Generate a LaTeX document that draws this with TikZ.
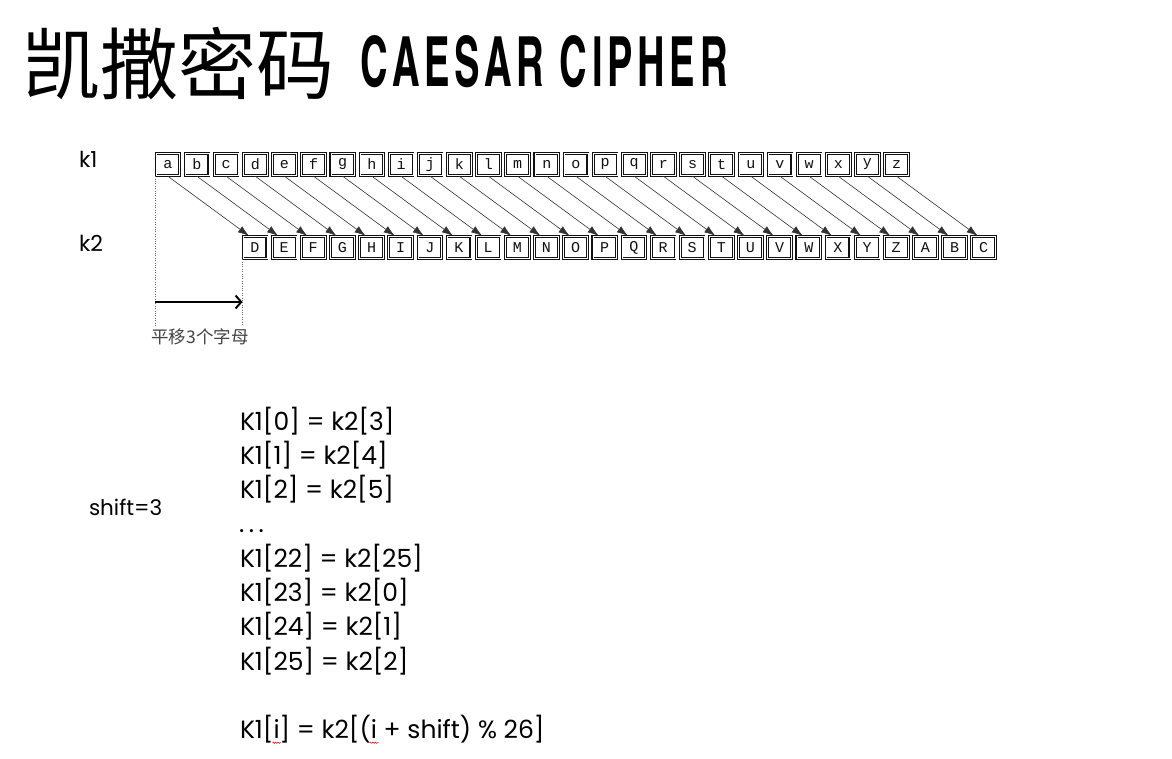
\documentclass[tikz,border=0pt]{standalone}
\usepackage{fontspec}
\usepackage{graphicx}
\usetikzlibrary{arrows.meta,decorations.pathmorphing}
\newfontfamily\cjk{Noto Sans CJK SC}
\newfontfamily\ttl[LetterSpace=10]{texgyreheroscn-bold.otf}
\newfontfamily\txt{Poppins}
\newfontfamily\mono{Liberation Mono}
\definecolor{boxink}{HTML}{111111}
\definecolor{labgray}{HTML}{444444}
\tikzset{
  letterbox/.style={draw=boxink, double=white, line width=1.1pt, double distance=0.6pt,
    minimum width=23.8pt, minimum height=22.3pt, inner sep=0pt,
    font=\mono\fontsize{15}{15}\selectfont, text=boxink},
  maparrow/.style={draw=black!80, line width=0.6pt, -{Latex[length=11pt,width=7.5pt]}},
  dotline/.style={draw=black!60, line width=0.7pt, dash pattern=on 1pt off 1.4pt},
  shiftarrow/.style={draw=black, line width=2.8pt, -{Straight Barb[length=5.5pt,width=13pt,line width=2pt]}},
  plain/.style={inner sep=0pt, outer sep=0pt, anchor=base west},
  eq/.style={plain, font=\txt\fontsize{25}{25}\selectfont},
  squig/.style={draw=red, line width=0.5pt, decorate, decoration={snake, amplitude=0.7pt, segment length=2.4pt}}
}
\begin{document}
\begin{tikzpicture}[x=1pt,y=-1pt]
\useasboundingbox[fill=white] (0,0) rectangle (1172,758);

% title
\node[inner sep=0pt, anchor=west, font=\cjk\fontsize{78}{78}\selectfont] (tcn) at (22,63.4) {凯撒密码};
\node[plain] (ten) at (360.7,86) {\resizebox{367pt}{51pt}{\ttl CAESAR CIPHER}};

% row labels
\node[plain, font=\txt\fontsize{22}{22}\selectfont] (k1) at (79,167) {k1};
\node[plain, font=\txt\fontsize{22}{22}\selectfont] (k2) at (79,251.7) {k2};

% letter boxes
\foreach \l [count=\i from 0] in {a,b,c,d,e,f,g,h,i,j,k,l,m,n,o,p,q,r,s,t,u,v,w,x,y,z}
  \node[letterbox] (t\i) at (167.8+29.15*\i,164.5) {\l};
\foreach \l [count=\i from 0] in {D,E,F,G,H,I,J,K,L,M,N,O,P,Q,R,S,T,U,V,W,X,Y,Z,A,B,C}
  \node[letterbox] (b\i) at (254.9+29.15*\i,247.5) {\l};
\foreach \i in {0,...,25}
  \draw[maparrow] (t\i.south) -- ([xshift=-6pt]b\i.north);

% shift indicator
\coordinate (gy) at (0,326);
\coordinate (ay) at (0,302);
\draw[dotline] (t0.south west) -- (t0.south west |- gy);
\draw[dotline] (b0.south west) -- (b0.south west |- gy);
\draw[shiftarrow] (t0.south west |- ay) -- (b0.south west |- ay);
\node[inner sep=0pt, text=labgray, font=\cjk\fontsize{17.5}{17.5}\selectfont] (lab) at (200,337) {平移3个字母};

% shift label
\node[plain, font=\txt\fontsize{21.5}{21.5}\selectfont] (sh) at (89,515) {shift=3};

% equations
\node[eq] (e0) at (240,430.0) {K1[0] = k2[3]};
\node[eq] (e1) at (240,464.3) {K1[1] = k2[4]};
\node[eq] (e2) at (240,498.6) {K1[2] = k2[5]};
\node[eq] (e3) at (239,532.9) {.\kern4.6pt.\kern4.6pt.};
\node[eq] (e4) at (240,567.2) {K1[22] = k2[25]};
\node[eq] (e5) at (240,601.5) {K1[23] = k2[0]};
\node[eq] (e6) at (240,635.8) {K1[24] = k2[1]};
\node[eq] (e7) at (240,670.1) {K1[25] = k2[2]};

\node[eq] (f1) at (240,738.7) {K1[};
\node[eq] (f2) at (f1.base east) {i};
\node[eq] (f3) at (f2.base east) {] = k2[(};
\node[eq] (f4) at (f3.base east) {i};
\node[eq] (f5) at (f4.base east) {\ + shift) \% 26]};
\draw[squig] ([xshift=-1pt,yshift=-4pt]f2.base west) -- ([xshift=1.5pt,yshift=-4pt]f2.base east);
\draw[squig] ([xshift=-1pt,yshift=-4pt]f4.base west) -- ([xshift=1.5pt,yshift=-4pt]f4.base east);
\end{tikzpicture}
\end{document}
